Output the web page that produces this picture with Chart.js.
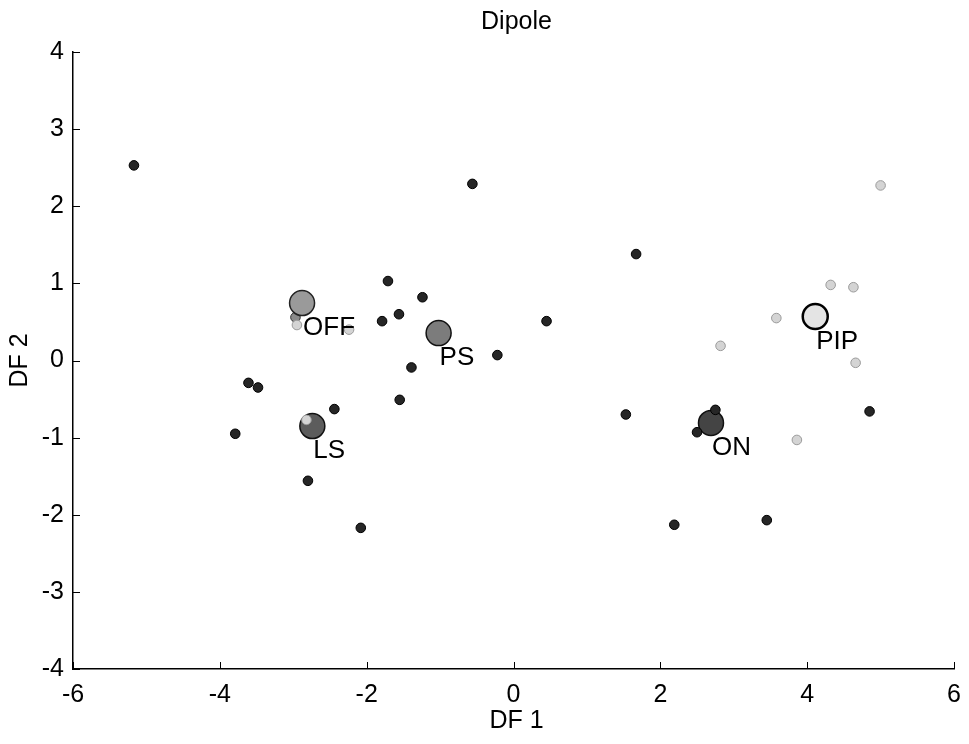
<!DOCTYPE html>
<html>
<head>
<meta charset="utf-8">
<script src="https://cdn.jsdelivr.net/npm/chart.js@4/dist/chart.umd.min.js"></script>
<style>
html,body{margin:0;padding:0;background:#fff;}
#wrap{width:969px;height:744px;position:relative;}
</style>
</head>
<body>
<div id="wrap"><canvas id="c" width="969" height="744"></canvas></div>
<script>
// ---- data ----
const titleText = "Dipole";
const xTitle = "DF 1";
const yTitle = "DF 2";
const xTicks = [-6, -4, -2, 0, 2, 4, 6];
const yTicks = [-4, -3, -2, -1, 0, 1, 2, 3, 4];

// individual cases, dark groups
const darkX = [-5.17, -0.56, 1.67, -1.71, -1.24, -1.79, -1.56, 0.45, -0.22, -1.39, -1.55, -3.61, -3.48, -3.79, -2.44, -2.80, -2.08, 1.53, 2.19, 3.45, 4.85, 2.50, 2.75];
const darkY = [2.53, 2.29, 1.38, 1.03, 0.82, 0.51, 0.60, 0.51, 0.07, -0.09, -0.51, -0.29, -0.35, -0.95, -0.63, -1.56, -2.17, -0.70, -2.13, -2.07, -0.66, -0.93, -0.64];
// OFF group cases (gray)
const offX = [-2.97];
const offY = [0.56];
// light cases (PIP group and a few others)
const lightX = [5.00, 4.32, 4.63, 3.58, 4.66, 2.82, 3.86, -2.95, -2.24, -2.82];
const lightY = [2.27, 0.98, 0.95, 0.55, -0.03, 0.19, -1.03, 0.46, 0.40, -0.77];
// group centroids
const groupNames = ["OFF", "PS", "LS", "ON", "PIP"];
const groupX = [-2.88, -1.02, -2.74, 2.69, 4.11];
const groupY = [0.745, 0.355, -0.85, -0.81, 0.57];

// ---- build ----
const toPts = (xs, ys) => xs.map((x, i) => ({x: x, y: ys[i]}));
const groupFill = ["#9a9a9a", "#7c7c7c", "#5c5c5c", "#444444", "#e4e4e4"];
const groupBorder = ["#222", "#111", "#111", "#111", "#000"];

const datasets = [];
groupNames.forEach((n, i) => {
  datasets.push({
    label: n,
    data: [{x: groupX[i], y: groupY[i]}],
    pointRadius: 12.5,
    pointBackgroundColor: groupFill[i],
    pointBorderColor: groupBorder[i],
    pointBorderWidth: i === 4 ? 2.5 : 1.5,
    showLine: false,
    order: 5
  });
});
datasets.push({label: "dark", data: toPts(darkX, darkY), pointRadius: 4.8,
  pointBackgroundColor: "#262626", pointBorderColor: "#000", pointBorderWidth: 1, order: 4});
datasets.push({label: "off", data: toPts(offX, offY), pointRadius: 4.8,
  pointBackgroundColor: "#8a8a8a", pointBorderColor: "#333", pointBorderWidth: 1, order: 6});
datasets.push({label: "light", data: toPts(lightX, lightY), pointRadius: 4.8,
  pointBackgroundColor: "#d4d4d4", pointBorderColor: "#9a9a9a", pointBorderWidth: 1, order: 3});

const FONT = "'Liberation Sans', Arial, sans-serif";

const decor = {
  id: 'decor',
  afterDraw(chart) {
    const ctx = chart.ctx;
    const xs = chart.scales.x, ys = chart.scales.y;
    const ca = chart.chartArea;
    ctx.save();
    ctx.strokeStyle = '#000';
    ctx.lineWidth = 1;
    // inward ticks
    xTicks.forEach(v => {
      const px = Math.round(xs.getPixelForValue(v)) + 0.5;
      ctx.beginPath(); ctx.moveTo(px, ca.bottom); ctx.lineTo(px, ca.bottom - 7); ctx.stroke();
    });
    yTicks.forEach(v => {
      const py = Math.round(ys.getPixelForValue(v)) + 0.5;
      ctx.beginPath(); ctx.moveTo(ca.left, py); ctx.lineTo(ca.left + 7, py); ctx.stroke();
    });
    // group labels
    ctx.fillStyle = '#000';
    ctx.font = "26px " + FONT;
    ctx.textAlign = 'left';
    ctx.textBaseline = 'middle';
    groupNames.forEach((n, i) => {
      const px = xs.getPixelForValue(groupX[i]);
      const py = ys.getPixelForValue(groupY[i]);
      ctx.fillText(n, px + 1, py + 25);
    });
    // title and axis titles
    ctx.textAlign = 'center';
    ctx.font = "25px " + FONT;
    ctx.fillText(titleText, (ca.left + ca.right) / 2 + 3, 22);
    ctx.fillText(xTitle, (ca.left + ca.right) / 2 + 3, 721);
    ctx.translate(20, (ca.top + ca.bottom) / 2);
    ctx.rotate(-Math.PI / 2);
    ctx.fillText(yTitle, 0, 0);
    ctx.restore();
  }
};

new Chart(document.getElementById('c'), {
  type: 'scatter',
  data: {datasets: datasets},
  options: {
    responsive: false,
    animation: false,
    devicePixelRatio: 1,
    layout: {padding: {top: 52, right: 11, left: 0, bottom: 0}},
    plugins: {legend: {display: false}, tooltip: {enabled: false}, title: {display: false}},
    scales: {
      x: {
        type: 'linear', min: -6, max: 6,
        afterBuildTicks: s => { s.ticks = xTicks.map(v => ({value: v})); },
        afterFit: s => { s.height = 75; s.paddingLeft = 0; s.paddingRight = 0; },
        grid: {display: false, drawTicks: false},
        border: {display: true, color: '#000', width: 1.5},
        ticks: {color: '#000', padding: 11, font: {size: 25, family: FONT}, maxRotation: 0}
      },
      y: {
        type: 'linear', min: -4, max: 4,
        afterBuildTicks: s => { s.ticks = yTicks.map(v => ({value: v})); },
        afterFit: s => { s.width = 73; s.paddingTop = 0; s.paddingBottom = 0; },
        grid: {display: false, drawTicks: false},
        border: {display: true, color: '#000', width: 1.5},
        ticks: {color: '#000', padding: 9, font: {size: 25, family: FONT}}
      }
    }
  },
  plugins: [decor]
});
</script>
</body>
</html>
